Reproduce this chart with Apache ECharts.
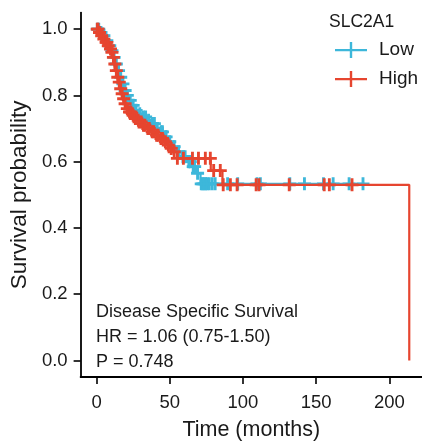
<!DOCTYPE html>
<html>
<head>
<meta charset="utf-8">
<script src="https://cdn.jsdelivr.net/npm/echarts@6/dist/echarts.min.js"></script>
<style>html,body{margin:0;padding:0;background:#fff}#c{width:422px;height:446px}</style>
</head>
<body>
<div id="c"></div>
<script>
// ---- data ----
const groupNames = ['Low', 'High'];
const legendTitle = 'SLC2A1';
const xTicks = [0, 50, 100, 150, 200];
const yTicks = [0, 0.2, 0.4, 0.6, 0.8, 1.0];

const lowTimes = [0, 2, 4, 6, 8, 10, 11.5, 13, 14.5, 16, 17.5, 19, 20.5, 22, 24, 26, 28.5, 31, 34, 37, 40, 43, 46, 49, 52, 55, 58, 62, 65, 68, 71, 183];
const lowSurv  = [1, 0.99, 0.98, 0.965, 0.95, 0.935, 0.915, 0.895, 0.875, 0.855, 0.835, 0.815, 0.80, 0.785, 0.77, 0.755, 0.745, 0.735, 0.725, 0.715, 0.70, 0.69, 0.675, 0.66, 0.645, 0.63, 0.615, 0.60, 0.585, 0.565, 0.533, 0.533];
const lowCensor = [0.5, 1.5, 3, 5, 7, 9, 10.5, 12, 13.5, 15, 16.5, 18, 19.5, 21, 23, 25, 27, 29.5, 32, 33.5, 35.5, 38, 39.5, 41.5, 44, 45, 47.5, 50, 53, 56, 59, 60.5, 63, 64, 66, 67, 69,
  71.5, 72.5, 73.5, 74.5, 75.5, 77, 79, 81, 89.5, 96.4, 109.6, 111.9, 132, 142, 155, 161.6, 172.5, 182];

const highTimes = [0, 1.5, 3, 4.5, 6, 7.5, 9, 10, 11, 12, 13, 14, 15, 16, 17, 18, 19, 20.5, 22, 24, 26, 28, 31, 34, 37, 40, 43, 46, 48, 50, 52, 55, 78, 86, 213.6];
const highSurv  = [1, 0.99, 0.98, 0.97, 0.96, 0.95, 0.94, 0.93, 0.915, 0.895, 0.875, 0.855, 0.84, 0.82, 0.805, 0.79, 0.775, 0.76, 0.75, 0.74, 0.73, 0.72, 0.71, 0.70, 0.69, 0.68, 0.67, 0.66, 0.65, 0.64, 0.63, 0.61, 0.573, 0.53, 0];
const highCensor = [0.5, 1, 2, 3.5, 5, 6.5, 7, 8, 9.5, 10.5, 11.5, 12.5, 13.5, 14.5, 15.5, 16.5, 17.5, 18.5, 19.5, 21, 22.5, 23.5, 25, 26.5, 27.5, 29, 30.5, 32, 33, 35, 36, 38, 39, 41, 42, 44, 45, 47, 49, 51, 53, 55.2, 59.3, 65.5, 69.6, 74.3, 77.7,
  80, 84.5, 86.5, 91.4, 96, 109, 111, 131.6, 155.5, 159, 174.5];

const annotationLines = ['Disease Specific Survival', 'HR = 1.06 (0.75-1.50)', 'P = 0.748'];

// ---- styling ----
const colors = { Low: '#3DB7DA', High: '#E6452F' };
const FONT = '"Liberation Sans", Arial, Helvetica, sans-serif';
const TXT = '#1a1a1a';
const plusPath = 'path://M3.9,0H6.1V3.9H10V6.1H6.1V10H3.9V6.1H0V3.9H3.9Z';
const legendIcon = 'path://M0,7H14.8V0H17.2V7H32V9.2H17.2V16H14.8V9.2H0Z';

function stepPoints(times, surv) { return times.map((t, i) => [t, surv[i]]); }
function censorPoints(times, surv, cens) {
  return cens.map(c => {
    let s = surv[0];
    for (let i = 0; i < times.length; i++) { if (times[i] <= c) s = surv[i]; }
    return [c, s];
  });
}

const groups = {
  Low: { times: lowTimes, surv: lowSurv, cens: lowCensor },
  High: { times: highTimes, surv: highSurv, cens: highCensor }
};

const series = [];
groupNames.forEach(g => {
  const d = groups[g];
  series.push({
    name: g, type: 'line', step: 'end', showSymbol: false, symbol: 'none',
    data: stepPoints(d.times, d.surv),
    lineStyle: { color: colors[g], width: 2.2 },
    itemStyle: { color: colors[g] },
    silent: true, animation: false, z: g === 'High' ? 4 : 2
  });
  series.push({
    name: g, type: 'scatter', symbol: plusPath, symbolSize: 13,
    data: censorPoints(d.times, d.surv, d.cens),
    itemStyle: { color: colors[g], opacity: 1 },
    silent: true, animation: false, z: g === 'High' ? 5 : 3
  });
});

const chart = echarts.init(document.getElementById('c'), null, { renderer: 'canvas' });
chart.setOption({
  backgroundColor: '#ffffff',
  animation: false,
  textStyle: { fontFamily: FONT },
  title: {
    text: legendTitle, left: 329, top: 13, padding: 0,
    textStyle: { fontFamily: FONT, fontSize: 17.5, fontWeight: 'normal', color: TXT }
  },
  legend: {
    data: groupNames.map(n => ({ name: n, icon: legendIcon })),
    orient: 'vertical', left: 335, top: 40.5, padding: 0,
    itemWidth: 32, itemHeight: 16, itemGap: 10,
    selectedMode: false,
    textStyle: { fontFamily: FONT, fontSize: 19, color: TXT, padding: [0, 0, 0, 7] }
  },
  grid: { left: 80, right: 0, top: 12.6, bottom: 66.6 },
  xAxis: {
    type: 'value', min: -10.9, max: 222.3,
    name: 'Time (months)', nameLocation: 'middle', nameGap: 42,
    nameTextStyle: { fontFamily: FONT, fontSize: 21.5, color: TXT },
    axisLine: { show: true, onZero: false, lineStyle: { color: '#000', width: 1.8 } },
    axisTick: { show: true, length: 7, customValues: xTicks, lineStyle: { color: '#000', width: 1.6 } },
    axisLabel: { customValues: xTicks, margin: 16, fontFamily: FONT, fontSize: 18.5, color: TXT },
    splitLine: { show: false }
  },
  yAxis: {
    type: 'value', min: -0.05, max: 1.05,
    name: 'Survival probability', nameLocation: 'middle', nameGap: 48,
    nameTextStyle: { fontFamily: FONT, fontSize: 22.5, color: TXT },
    axisLine: { show: true, onZero: false, lineStyle: { color: '#000', width: 1.8 } },
    axisTick: { show: true, length: 7, customValues: yTicks, lineStyle: { color: '#000', width: 1.6 } },
    axisLabel: { customValues: yTicks, margin: 13, fontFamily: FONT, fontSize: 18.5, color: TXT,
      formatter: v => Number(v).toFixed(1) },
    splitLine: { show: false }
  },
  graphic: annotationLines.map((txt, i) => ({
    type: 'text', left: 96, top: 303 + i * 25, silent: true,
    style: { text: txt, fontFamily: FONT, fontSize: 18, fill: TXT }
  })),
  series: series
});
</script>
</body>
</html>
